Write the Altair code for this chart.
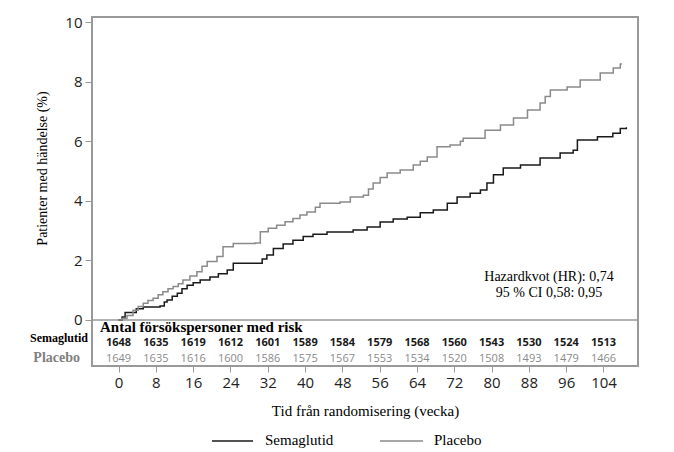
import altair as alt
import pandas as pd

# --- Kaplan-Meier style cumulative incidence ---
sema_weeks = [0, 0.75, 1.4, 3.1, 3.8, 5.3, 8.9, 9.8, 10.4, 11.5, 12.6, 13.6, 14.7, 16.0, 17.5,
              19.6, 21.4, 23.3, 24.6, 29.7, 30.8, 31.8, 33.2, 35.3, 37.4, 39.6, 41.7, 44.7,
              50.3, 53.3, 56.1, 58.9, 61.9, 64.7, 67.5, 70.5, 72.6, 75.4, 77.6, 79.0, 80.4,
              82.5, 86.2, 90.4, 94.7, 97.5, 98.4, 102.7, 106.0, 107.6, 108.9]
sema_vals = [0, 0.10, 0.25, 0.25, 0.38, 0.44, 0.47, 0.60, 0.67, 0.80, 0.90, 1.05, 1.17, 1.25, 1.34,
             1.44, 1.55, 1.68, 1.90, 1.90, 2.05, 2.18, 2.40, 2.55, 2.68, 2.80, 2.88, 2.95,
             3.02, 3.12, 3.29, 3.39, 3.45, 3.60, 3.69, 3.92, 4.13, 4.25, 4.36, 4.60, 4.87,
             5.10, 5.20, 5.44, 5.60, 5.70, 6.04, 6.15, 6.27, 6.43, 6.47]

plac_weeks = [0, 0.75, 1.8, 3.1, 4.2, 5.3, 6.3, 7.4, 8.5, 9.5, 10.6, 11.7, 12.8, 13.8, 15.3,
              16.8, 17.9, 19.0, 21.1, 22.4, 24.6, 29.3, 30.4, 32.1, 33.9, 35.7, 37.4, 38.9,
              40.4, 42.2, 43.2, 47.5, 49.7, 52.5, 53.6, 54.6, 56.1, 57.6, 60.4, 63.2, 64.7,
              66.2, 68.3, 71.1, 73.3, 73.9, 78.2, 78.6, 81.9, 84.7, 87.7, 90.4, 91.5, 92.6,
              96.2, 99.0, 103.3, 106.1, 107.6, 107.8]
plac_vals = [0, 0.05, 0.15, 0.33, 0.45, 0.56, 0.65, 0.73, 0.85, 0.95, 1.05, 1.12, 1.22, 1.34, 1.48,
             1.62, 1.80, 1.96, 2.13, 2.46, 2.57, 2.58, 2.96, 3.08, 3.18, 3.30, 3.41, 3.52,
             3.62, 3.78, 3.92, 3.96, 4.13, 4.19, 4.40, 4.60, 4.78, 4.93, 5.03, 5.20, 5.33,
             5.47, 5.81, 5.87, 6.00, 6.10, 6.10, 6.37, 6.54, 6.78, 7.05, 7.28, 7.50, 7.72,
             7.82, 8.05, 8.29, 8.46, 8.59, 8.62]

# --- Number at risk ---
risk_weeks = [0, 8, 16, 24, 32, 40, 48, 56, 64, 72, 80, 88, 96, 104]
risk_sema = [1648, 1635, 1619, 1612, 1601, 1589, 1584, 1579, 1568, 1560, 1543, 1530, 1524, 1513]
risk_plac = [1649, 1635, 1616, 1600, 1586, 1575, 1567, 1553, 1534, 1520, 1508, 1493, 1479, 1466]

y_ticks = [0, 2, 4, 6, 8, 10]
x_ticks = risk_weeks

series = ["Semaglutid", "Placebo"]
colors = ["#1a1a1a", "#8a8a8a"]

curves = pd.concat([
    pd.DataFrame({"week": sema_weeks, "pct": sema_vals, "grp": "Semaglutid"}),
    pd.DataFrame({"week": plac_weeks, "pct": plac_vals, "grp": "Placebo"}),
])
risk_df = pd.DataFrame({"week": risk_weeks, "sema": risk_sema, "plac": risk_plac})

W, H = 546, 349
SERIF = "Liberation Serif"
SANS = "Open Sans"

xscale = alt.Scale(domain=[-5.7, 111.4], nice=False, zero=False)
yscale = alt.Scale(domain=[-1.544, 10.168], nice=False, zero=False)

xaxis = alt.Axis(values=x_ticks, grid=False, domain=False, tickColor="#999999", tickSize=6,
                 labelFont=SANS, labelFontSize=15, labelColor="#222222", labelPadding=3,
                 title="Tid från randomisering (vecka)", titleFont=SERIF, titleFontSize=15,
                 titleFontWeight="normal", titleColor="#000000", titleY=44,
                 titleBaseline="middle")
yaxis = alt.Axis(values=y_ticks, grid=False, domain=False, tickColor="#999999", tickSize=7,
                 labelFont=SANS, labelFontSize=15, labelColor="#222222", labelPadding=3,
                 title="Patienter med händelse (%)", titleFont=SERIF, titleFontSize=14,
                 titleFontWeight="normal", titleColor="#000000", titleX=-50, titleY=151,
                 titleAngle=270, titleAlign="center", titleBaseline="middle")

lines = alt.Chart(curves).mark_line(interpolate="step-after", strokeWidth=1.5).encode(
    x=alt.X("week:Q", scale=xscale, axis=xaxis),
    y=alt.Y("pct:Q", scale=yscale, axis=yaxis),
    color=alt.Color("grp:N", scale=alt.Scale(domain=series, range=colors), legend=None),
)

zero_rule = alt.Chart(pd.DataFrame({"z": [0]})).mark_rule(color="#999999", strokeWidth=1.5).encode(
    y=alt.Y("z:Q", scale=yscale),
    x=alt.value(0), x2=alt.value(W),
)

risk_s = alt.Chart(risk_df).mark_text(font=SANS, fontSize=11, fontWeight="bold",
                                      color="#1a1a1a", baseline="middle").encode(
    x=alt.X("week:Q", scale=xscale), y=alt.value(326), text="sema:Q")
risk_p = alt.Chart(risk_df).mark_text(font=SANS, fontSize=11, color="#8a8a8a",
                                      baseline="middle").encode(
    x=alt.X("week:Q", scale=xscale), y=alt.value(342), text="plac:Q")


def label(txt, x, y, align="left", size=14, weight="normal", color="#000000", font=SERIF):
    return alt.Chart(pd.DataFrame({"t": [txt]})).mark_text(
        font=font, fontSize=size, fontWeight=weight, color=color, align=align,
        baseline="middle").encode(x=alt.value(x), y=alt.value(y), text="t:N")


risk_title = label("Antal försökspersoner med risk", 8, 310, size=15, weight="bold")
lab_s = label("Semaglutid", -4, 321, align="right", size=12, weight="bold")
lab_p = label("Placebo", -12, 341, align="right", size=14, weight="bold", color="#808080")
hr1 = label("Hazardkvot (HR): 0,74", 457, 260, align="center", size=14)
hr2 = label("95 % CI 0,58: 0,95", 457, 276, align="center", size=14)

leg_rules = alt.Chart(pd.DataFrame({"grp": series, "x1": [120, 288], "x2": [161, 331]})).mark_rule(
    strokeWidth=1.5).encode(
    x=alt.X("x1:Q", scale=None), x2="x2:Q", y=alt.value(424),
    color=alt.Color("grp:N", scale=alt.Scale(domain=series, range=colors), legend=None))
leg_s = label("Semaglutid", 173, 423, size=15)
leg_p = label("Placebo", 342, 423, size=15)

chart = alt.layer(
    zero_rule, lines, risk_s, risk_p, risk_title, lab_s, lab_p, hr1, hr2,
    leg_rules, leg_s, leg_p,
).properties(
    width=W, height=H,
    autosize=alt.AutoSizeParams(type="none"),
    padding={"left": 84, "top": 9, "right": 20, "bottom": 86},
    background="white",
).configure_view(stroke="#999999", strokeWidth=2)

chart.save("out.html", embed_options={"renderer": "svg", "actions": False})
